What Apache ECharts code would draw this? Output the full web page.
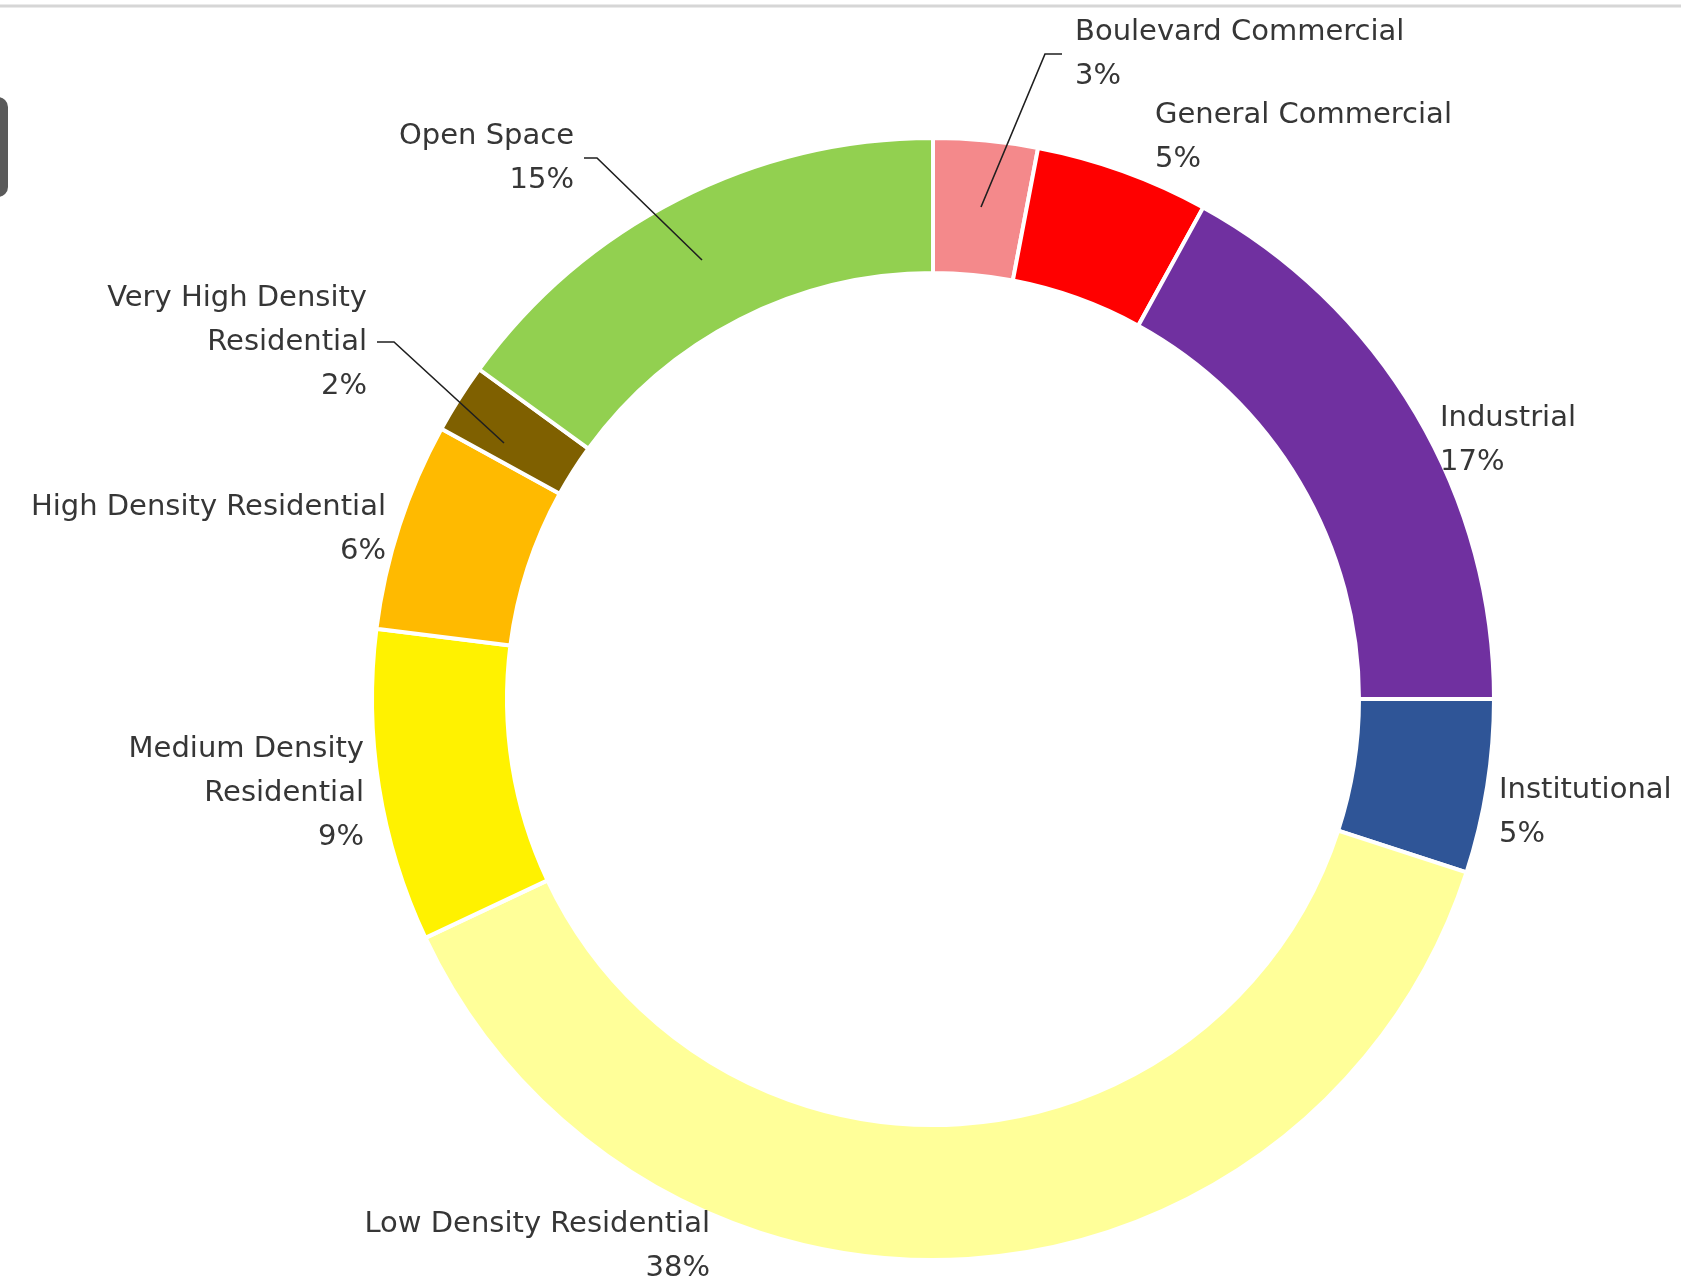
<!DOCTYPE html>
<html>
<head>
<meta charset="utf-8">
<script src="https://cdn.jsdelivr.net/npm/echarts@6/dist/echarts.min.js"></script>
<style>
  html, body { margin: 0; padding: 0; background: #ffffff; }
  #chart { width: 1681px; height: 1288px; }
</style>
</head>
<body>
<div id="chart"></div>
<script>
// ---- data ----
const categories = [
  'Boulevard Commercial',
  'General Commercial',
  'Industrial',
  'Institutional',
  'Low Density Residential',
  'Medium Density\nResidential',
  'High Density Residential',
  'Very High Density\nResidential',
  'Open Space'
];
const shares = [3, 5, 17, 5, 38, 9, 6, 2, 15];
const colors = ['#F4898B', '#FF0000', '#7030A0', '#2F5597', '#FFFF99', '#FFF200', '#FFBA00', '#7F6000', '#92D050'];

// ---- label layout (positions in px of the 1681x1288 canvas) ----
const labelPlace = {
  'Boulevard Commercial':            { x: 1075, y: 54,   align: 'left' },
  'General Commercial':              { x: 1155, y: 137,  align: 'left' },
  'Industrial':                      { x: 1440, y: 440,  align: 'left' },
  'Institutional':                   { x: 1499, y: 812,  align: 'left' },
  'Low Density Residential':         { x: 710,  y: 1246, align: 'right' },
  'Medium Density\nResidential':     { x: 364,  y: 793,  align: 'right' },
  'High Density Residential':        { x: 386,  y: 529,  align: 'right' },
  'Very High Density\nResidential':  { x: 367,  y: 342,  align: 'right' },
  'Open Space':                      { x: 574,  y: 158,  align: 'right' }
};
// leader lines drawn on top of the ring (label -> inside the slice)
const leaderLines = [
  [[1062, 54], [1045, 54], [981, 207]],
  [[377, 342], [394, 342], [504, 443]],
  [[584, 158], [597, 158], [702, 260]]
];

const seriesData = categories.map((name, i) => ({
  name: name,
  value: shares[i],
  itemStyle: { color: colors[i] }
}));

const chart = echarts.init(document.getElementById('chart'), null, { renderer: 'canvas' });
chart.setOption({
  backgroundColor: '#ffffff',
  animation: false,
  graphic: [
    { type: 'line', z: 1, shape: { x1: 0, y1: 6, x2: 1681, y2: 6 }, style: { stroke: '#d6d6d6', lineWidth: 3 } },
    { type: 'rect', z: 1, shape: { x: -20, y: 97, width: 28, height: 100, r: 10 }, style: { fill: '#5a5a5a' } }
  ].concat(leaderLines.map(pts => ({
    type: 'polyline',
    z: 100,
    shape: { points: pts },
    style: { stroke: '#1f1f1f', lineWidth: 1.6, fill: null }
  }))),
  series: [{
    type: 'pie',
    center: [933, 699],
    radius: [426, 561],
    startAngle: 90,
    clockwise: true,
    avoidLabelOverlap: false,
    itemStyle: { borderColor: '#ffffff', borderWidth: 4 },
    label: {
      show: true,
      position: 'outside',
      formatter: '{b}\n{c}%',
      fontFamily: 'DejaVu Sans',
      fontSize: 29,
      lineHeight: 44,
      color: '#363636'
    },
    labelLine: { show: false },
    labelLayout: function (params) {
      const p = labelPlace[categories[params.dataIndex]];
      return { x: p.x, y: p.y, align: p.align, verticalAlign: 'middle' };
    },
    emphasis: { disabled: true },
    data: seriesData
  }]
});
</script>
</body>
</html>
